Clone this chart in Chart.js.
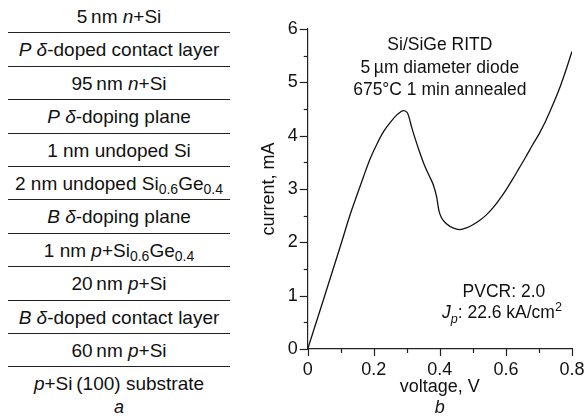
<!DOCTYPE html>
<html>
<head>
<meta charset="utf-8">
<script src="https://cdn.jsdelivr.net/npm/chart.js@4.4.0/dist/chart.umd.min.js"></script>
<style>
  html, body { margin: 0; padding: 0; background: #fff; }
  body { width: 585px; height: 418px; position: relative; overflow: hidden;
         font-family: "Liberation Sans", Arial, sans-serif; color: #111; }
  #layers { position: absolute; left: 8px; top: 0; width: 222px; }
  .row { height: 33.4px; box-sizing: border-box; border-bottom: 1.3px solid #222;
         text-align: center; font-size: 19px; line-height: 33.4px; white-space: nowrap; }
  .row.last { border-bottom: none; }
  .row sub { font-size: 14px; line-height: 0; vertical-align: -4px; }
  #panelA { position: absolute; left: 8px; width: 222px; top: 397px; text-align: center;
            font-size: 18px; line-height: 20px; font-style: italic; }
  #chartBox { position: absolute; left: 240px; top: 0; width: 345px; height: 418px; }
</style>
</head>
<body>
<div id="layers"></div>
<div id="panelA">a</div>
<div id="chartBox"><canvas id="ivChart"></canvas></div>
<script>
// layer stack (panel a), top to bottom
const layerNames = [
  "5\u2009nm <i>n</i>+Si",
  "<i>P</i> <i>\u03b4</i>-doped contact layer",
  "95\u2009nm <i>n</i>+Si",
  "<i>P</i> <i>\u03b4</i>-doping plane",
  "1 nm undoped Si",
  "2 nm undoped Si<sub>0.6</sub>Ge<sub>0.4</sub>",
  "<i>B</i> <i>\u03b4</i>-doping plane",
  "1 nm <i>p</i>+Si<sub>0.6</sub>Ge<sub>0.4</sub>",
  "20\u2009nm <i>p</i>+Si",
  "<i>B</i> <i>\u03b4</i>-doped contact layer",
  "60\u2009nm <i>p</i>+Si",
  "<i>p</i>+Si\u2009(100) substrate"
];

// I-V curve (panel b)
const voltage = [0, 0.05, 0.10, 0.13, 0.15, 0.17, 0.19, 0.21, 0.23, 0.25, 0.27, 0.28, 0.29, 0.30,
  0.305, 0.315, 0.325, 0.34, 0.355, 0.37, 0.38, 0.39, 0.397, 0.405, 0.42, 0.44, 0.46, 0.48,
  0.50, 0.52, 0.54, 0.56, 0.58, 0.60, 0.62, 0.64, 0.66, 0.68, 0.70, 0.72, 0.74, 0.76, 0.78, 0.80];
const current = [0, 0.97, 1.95, 2.55, 2.9, 3.25, 3.58, 3.85, 4.08, 4.25, 4.39, 4.44, 4.47, 4.44,
  4.38, 4.15, 3.95, 3.67, 3.42, 3.22, 3.08, 2.86, 2.6, 2.46, 2.35, 2.27, 2.24, 2.27,
  2.33, 2.41, 2.51, 2.64, 2.80, 2.98, 3.18, 3.39, 3.60, 3.82, 4.03, 4.27, 4.55, 4.85, 5.20, 5.58];

const xTicks = ["0", "0.2", "0.4", "0.6", "0.8"];
const yTicks = ["0", "1", "2", "3", "4", "5", "6"];

const topNote = ["Si/SiGe RITD", "5\u2009\u00b5m diameter diode", "675\u00b0C 1 min annealed"];
const pvcrText = "PVCR: 2.0";
const jpValue = ": 22.6 kA/cm";

const FONT = '"Liberation Sans", Arial, sans-serif';
const INK = '#111';

// build the layer table
const layersEl = document.getElementById('layers');
layerNames.forEach((html, i) => {
  const d = document.createElement('div');
  d.className = 'row' + (i === layerNames.length - 1 ? ' last' : '');
  d.innerHTML = html;
  layersEl.appendChild(d);
});

// draw a line of mixed text runs centred on cx
function drawRuns(ctx, runs, cx, baseY, size) {
  const fontOf = (r) => (r.it ? 'italic ' : '') + ((r.sub || r.sup) ? size * 0.72 : size) + 'px ' + FONT;
  let total = 0;
  runs.forEach(r => { ctx.font = fontOf(r); total += ctx.measureText(r.t).width; });
  let x = cx - total / 2;
  ctx.textAlign = 'left';
  ctx.textBaseline = 'alphabetic';
  runs.forEach(r => {
    ctx.font = fontOf(r);
    let dy = 0;
    if (r.sub) dy = size * 0.3;
    if (r.sup) dy = -size * 0.38;
    ctx.fillText(r.t, x, baseY + dy);
    x += ctx.measureText(r.t).width;
  });
}

const decorations = {
  id: 'decorations',
  afterDraw(chart) {
    const { ctx, scales: { x, y } } = chart;
    ctx.save();
    ctx.strokeStyle = '#222';
    ctx.lineWidth = 1.2;
    // tick marks, long at labelled values, short in between
    x.ticks.forEach((t, i) => {
      const px = Math.round(x.getPixelForValue(t.value)) + 0.5;
      ctx.beginPath();
      ctx.moveTo(px, y.bottom);
      ctx.lineTo(px, y.bottom + (i % 2 === 0 ? 7 : 4));
      ctx.stroke();
    });
    y.ticks.forEach((t, i) => {
      const py = Math.round(y.getPixelForValue(t.value)) + 0.5;
      ctx.beginPath();
      ctx.moveTo(x.left, py);
      ctx.lineTo(x.left - (i % 2 === 0 ? 8 : 4), py);
      ctx.stroke();
    });

    ctx.fillStyle = INK;
    const cx = x.getPixelForValue(0.4);
    topNote.forEach((line, i) => {
      drawRuns(ctx, [{ t: line }], cx, 50 + i * 22.5, 17.5);
    });
    const cx2 = x.getPixelForValue(0.594);
    drawRuns(ctx, [{ t: pvcrText }], cx2, y.getPixelForValue(0.97), 17.5);
    drawRuns(ctx, [{ t: 'J', it: true }, { t: 'p', it: true, sub: true }, { t: jpValue }, { t: '2', sup: true }],
      cx2 - 2, y.getPixelForValue(0.58), 17.5);

    // panel letter
    ctx.font = 'italic 18px ' + FONT;
    ctx.textAlign = 'center';
    ctx.fillText('b', cx, 413);
    ctx.restore();
  }
};

new Chart(document.getElementById('ivChart'), {
  type: 'line',
  data: {
    labels: voltage,
    datasets: [{
      data: voltage.map((v, i) => ({ x: v, y: current[i] })),
      borderColor: INK,
      borderWidth: 1.3,
      pointRadius: 0,
      fill: false,
      cubicInterpolationMode: 'monotone'
    }]
  },
  options: {
    responsive: true,
    maintainAspectRatio: false,
    animation: false,
    layout: { padding: { top: 29, right: 13, left: 0, bottom: 0 } },
    plugins: { legend: { display: false }, tooltip: { enabled: false } },
    scales: {
      x: {
        type: 'linear',
        min: 0, max: 0.8,
        grid: { display: false, drawTicks: false },
        border: { display: true, color: '#222', width: 1.2 },
        ticks: {
          stepSize: 0.1, autoSkip: false, maxRotation: 0, padding: 10,
          color: INK, font: { family: FONT, size: 18 },
          callback: (v, i) => (i % 2 === 0 ? xTicks[i / 2] : '')
        },
        title: { display: true, text: 'voltage, V', color: INK,
                 font: { family: FONT, size: 18 }, padding: { top: 0, bottom: 20 } },
        afterFit: (s) => { s.height = 69; s.paddingLeft = 0; s.paddingRight = 0; }
      },
      y: {
        type: 'linear',
        min: 0, max: 6,
        grid: { display: false, drawTicks: false },
        border: { display: true, color: '#222', width: 1.2 },
        ticks: {
          stepSize: 0.5, autoSkip: false, padding: 10,
          color: INK, font: { family: FONT, size: 18 },
          callback: (v, i) => (i % 2 === 0 ? yTicks[i / 2] : '')
        },
        title: { display: true, text: 'current, mA', color: INK,
                 font: { family: FONT, size: 18 }, padding: { top: 18, bottom: 0 } },
        afterFit: (s) => { s.width = 67.7; s.paddingTop = 0; s.paddingBottom = 0; }
      }
    }
  },
  plugins: [decorations]
});
</script>
</body>
</html>
